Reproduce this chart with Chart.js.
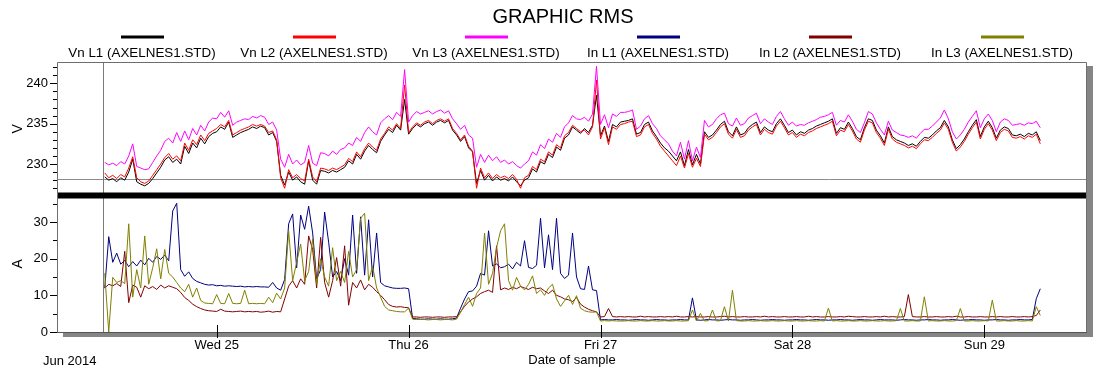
<!DOCTYPE html>
<html>
<head>
<meta charset="utf-8">
<script src="https://cdn.jsdelivr.net/npm/chart.js@4/dist/chart.umd.min.js"></script>
<style>
html,body{margin:0;padding:0;background:#fff;overflow:hidden}
#c{display:block}
</style>
</head>
<body>
<canvas id="c" width="1099" height="369"></canvas>
<script>
// ---------- text ----------
const chartTitle = 'GRAPHIC RMS';
const seriesNames = ['Vn L1 (AXELNES1.STD)','Vn L2 (AXELNES1.STD)','Vn L3 (AXELNES1.STD)',
                     'In L1 (AXELNES1.STD)','In L2 (AXELNES1.STD)','In L3 (AXELNES1.STD)'];
const dayTicks  = [24, 48, 72, 96, 120];          // hours since Tue 24 00:00
const dayLabels = ['Wed 25','Thu 26','Fri 27','Sat 28','Sun 29'];
const monthLabel = 'Jun 2014';
const xAxisTitle = 'Date of sample';
const voltTitle = 'V';
const ampTitle = 'A';

// ---------- sampling ----------
const startHour = 10;     // Tue 24 10:00
const stepHours = 0.5;    // one sample every 30 min
const cursorHour = 9.74;
const cursorVolt = 228.2;

// ---------- values (V) ----------
const vnL1 = [
228.4,228.0,228.2,227.8,228.3,228.0,229.0,230.6,227.8,227.5,
227.3,227.6,228.2,228.9,229.6,230.5,230.9,230.2,230.6,230.0,
232.2,231.3,232.6,232.0,233.2,232.5,233.4,233.8,234.0,234.6,
234.3,235.2,233.3,233.6,233.9,234.1,234.3,234.6,234.4,234.7,
234.5,233.6,233.9,232.8,228.6,227.4,229.0,228.0,228.4,227.8,
227.5,230.4,228.0,227.5,229.2,229.1,228.9,229.2,229.0,229.3,
229.6,230.4,230.0,231.2,230.6,231.6,232.3,231.8,231.4,232.8,
233.6,234.3,233.9,234.8,234.2,238.0,233.7,234.4,234.9,234.6,
235.0,235.2,234.8,235.2,235.4,235.1,235.4,234.2,233.6,232.8,
233.4,232.0,231.5,227.6,229.2,228.0,228.6,227.9,228.4,228.0,
228.2,227.9,228.4,227.8,227.3,228.0,228.3,229.4,229.0,230.3,
230.0,231.2,230.8,232.1,231.7,233.2,233.6,234.6,234.2,233.8,
234.4,233.9,234.8,238.5,233.5,234.7,232.8,234.9,234.6,235.2,
235.3,235.4,235.6,233.7,233.9,234.9,235.2,234.1,233.4,232.6,
232.0,231.6,231.0,230.4,231.5,229.8,231.8,229.9,231.2,230.0,
234.0,233.3,233.6,234.2,234.9,235.3,234.0,233.5,234.6,233.6,
233.8,234.5,234.9,235.2,233.9,234.6,234.2,234.0,235.0,235.6,
234.8,233.9,234.2,233.6,234.0,233.8,234.2,234.4,234.7,234.9,
235.1,235.3,235.6,233.8,234.5,234.3,235.2,234.4,233.4,233.0,
234.5,235.6,235.4,234.2,233.5,232.6,234.6,233.4,233.0,232.8,
232.6,232.3,232.5,232.2,232.8,233.3,233.2,233.6,234.1,234.5,
235.4,234.6,233.0,231.9,232.4,233.1,234.0,234.8,235.5,233.4,
234.6,235.3,234.5,233.2,234.2,234.6,234.4,233.6,233.5,233.7,
233.4,233.8,233.6,234.0,232.9];
const vnL2 = [
228.9,228.3,228.6,228.2,228.7,228.4,229.5,230.9,228.3,227.8,
227.6,227.9,228.6,229.3,230.0,230.8,231.3,230.6,231.0,230.4,
232.6,231.7,233.0,232.4,233.6,232.9,233.8,234.1,234.4,234.9,
234.6,235.4,233.6,233.9,234.2,234.4,234.6,234.9,234.7,234.9,
234.7,233.9,234.1,233.0,228.3,227.0,229.3,228.3,228.7,228.2,
227.9,230.6,228.4,227.8,229.5,229.4,229.2,229.5,229.3,229.6,
229.9,230.7,230.3,231.5,230.9,231.9,232.6,232.1,231.7,233.1,
233.8,234.6,234.2,235.0,234.4,239.8,233.9,234.6,235.1,234.8,
235.2,235.4,235.0,235.4,235.6,235.3,235.6,234.4,233.8,233.0,
233.6,232.2,231.6,227.0,229.5,228.3,228.9,228.2,228.7,228.3,
228.5,228.2,228.7,228.1,227.0,228.3,228.6,229.7,229.3,230.6,
230.3,231.5,231.1,232.4,232.0,233.5,233.9,234.8,234.4,234.0,
234.2,233.6,234.6,240.4,233.1,234.5,232.4,234.6,234.3,234.9,
235.0,235.2,235.3,233.4,233.6,234.6,234.9,233.8,233.1,232.2,
231.6,231.0,230.4,229.8,231.0,229.5,231.3,229.6,230.7,229.7,
233.7,233.0,233.3,233.9,234.6,235.0,233.7,233.2,234.3,233.3,
233.5,234.2,234.6,234.9,233.6,234.3,233.9,233.7,234.7,235.3,
234.5,233.6,233.9,233.3,233.7,233.5,233.9,234.1,234.4,234.6,
234.8,235.0,235.3,233.5,234.2,234.0,234.9,234.1,233.1,232.7,
234.2,235.3,235.1,233.9,233.2,232.3,234.3,233.1,232.7,232.5,
232.3,232.0,232.2,231.9,232.5,233.0,232.9,233.3,233.8,234.2,
235.1,234.3,232.7,231.6,232.1,232.8,233.7,234.5,235.2,233.1,
234.3,235.0,234.2,232.9,233.9,234.3,234.1,233.3,233.2,233.4,
233.1,233.5,233.3,233.7,232.5];
const vnL3 = [
230.2,229.9,230.1,229.8,230.3,230.0,231.0,232.5,229.7,229.5,
229.3,229.4,230.2,231.0,231.7,232.8,233.2,232.6,233.9,232.8,
234.1,233.0,234.4,233.6,234.8,234.1,235.2,235.7,235.6,236.4,
235.8,236.6,234.8,235.2,235.4,235.6,235.5,235.9,235.7,236.0,
235.8,234.9,235.2,234.2,230.6,229.6,231.2,230.0,230.5,229.9,
230.2,232.3,230.1,229.8,231.4,231.3,231.0,231.6,231.2,231.8,
232.0,232.6,232.3,233.3,232.8,233.9,234.6,234.0,233.6,235.1,
235.6,236.0,235.5,236.4,235.9,241.7,235.2,236.0,236.5,236.2,
236.4,236.6,236.2,236.5,236.7,236.3,236.6,235.6,235.0,234.3,
234.8,233.6,233.2,229.6,231.2,230.2,231.1,230.4,230.9,230.2,
230.5,230.0,230.3,229.8,229.5,230.0,230.4,231.5,231.1,232.4,
231.9,233.1,232.7,233.8,233.3,234.6,235.1,236.0,235.6,235.5,
235.8,235.3,236.2,242.1,234.9,236.1,234.5,236.2,235.9,236.4,
236.4,236.5,236.7,234.3,234.7,235.6,236.0,235.0,234.4,233.5,
233.0,232.5,231.6,231.0,232.7,230.6,232.9,230.4,232.1,230.8,
235.4,234.6,234.9,235.6,236.1,236.3,235.0,234.7,235.7,234.8,
235.0,235.7,236.0,236.3,235.0,235.6,235.2,234.9,235.9,236.5,
235.6,234.8,235.2,234.7,234.9,234.8,235.1,235.3,235.5,235.8,
235.9,236.1,236.4,234.8,235.4,235.2,236.1,235.3,234.3,233.9,
235.1,236.5,236.2,235.1,234.3,233.6,235.3,234.2,233.9,233.6,
233.5,233.3,233.5,233.2,233.8,234.3,234.3,234.7,235.2,235.7,
236.7,235.6,234.0,233.1,233.6,234.3,235.2,235.9,236.6,234.5,
235.6,236.2,235.4,234.0,235.2,235.6,235.4,234.8,234.9,235.0,
234.8,235.1,235.0,235.3,234.5];

// ---------- values (A) ----------
const inL1 = [
12.0,26.0,19.0,21.5,18.5,19.5,17.8,19.2,18.0,19.6,
18.3,20.1,19.0,20.6,19.8,21.0,19.4,33.0,35.1,17.0,
15.2,16.4,14.6,13.8,13.4,13.0,12.8,12.9,12.6,12.7,
12.5,12.6,12.5,12.4,12.5,12.3,12.4,12.3,12.4,12.3,
12.3,12.2,13.5,12.0,11.4,14.3,29.5,32.2,17.5,31.9,
28.0,34.3,27.0,14.5,17.0,32.7,24.5,15.0,16.5,14.0,
20.0,15.5,31.9,16.0,31.4,15.5,30.6,15.0,27.0,13.5,
12.6,12.3,12.0,11.9,11.9,12.0,11.8,3.7,3.6,3.5,
3.5,3.6,3.5,3.5,3.6,3.5,3.5,3.6,3.8,6.5,
9.0,11.0,11.2,12.5,16.0,15.5,27.6,18.0,18.6,17.5,
17.8,18.5,17.2,19.0,18.0,24.9,17.6,17.3,18.2,31.0,
17.5,26.5,17.0,31.0,16.0,14.6,15.5,27.0,15.0,11.8,
11.6,18.0,11.5,11.3,3.3,3.4,3.3,3.3,3.4,3.3,
3.3,3.2,3.3,3.4,3.3,3.3,3.2,3.3,3.4,3.3,
3.3,3.2,3.3,3.3,3.4,3.3,3.3,9.3,3.3,3.2,
3.3,3.4,3.3,3.3,3.2,3.3,3.4,3.3,3.3,3.2,
3.3,3.3,3.4,3.3,3.2,3.3,3.3,3.4,3.3,3.3,
3.2,3.3,3.3,3.4,3.3,3.3,3.2,3.3,3.4,3.3,
3.3,3.2,3.3,3.3,3.4,3.3,3.3,3.2,3.3,3.4,
3.3,3.3,3.2,3.3,3.4,3.3,3.3,3.3,3.2,3.3,
3.4,3.3,3.3,3.2,3.3,3.3,3.4,3.3,3.3,3.2,
3.3,3.3,3.4,3.3,3.2,3.3,3.3,3.4,3.3,3.3,
3.2,3.3,3.3,3.4,3.3,3.3,3.2,3.3,3.3,3.4,
3.3,3.3,3.4,9.1,11.8];
const inL2 = [
12.0,13.0,12.6,13.2,12.4,22.0,8.0,12.8,12.2,9.5,
12.6,11.8,12.4,11.6,12.8,12.0,12.6,12.2,11.8,10.8,
9.4,8.6,7.6,6.9,6.4,6.0,5.8,5.7,5.6,6.2,
5.7,5.6,5.5,5.6,5.7,5.5,5.6,5.5,5.6,5.4,
5.5,5.7,5.4,5.6,5.5,9.0,12.5,14.0,12.0,14.5,
13.0,26.2,22.5,12.0,25.8,13.5,9.5,14.0,20.3,12.5,
23.5,7.3,13.5,12.0,14.2,11.5,13.0,12.2,11.0,10.0,
8.8,7.5,7.0,6.8,6.9,6.7,6.6,4.1,4.1,4.0,
4.1,4.1,4.0,4.1,4.1,4.0,4.1,4.1,4.2,5.5,
7.0,8.2,9.0,9.6,10.5,11.0,11.4,10.8,23.5,11.5,
12.0,11.6,12.2,11.8,12.4,12.0,11.6,12.2,11.8,12.0,
11.2,10.5,11.4,10.0,9.6,9.0,8.8,8.3,9.4,7.6,
6.8,6.2,5.8,5.5,4.1,4.2,6.4,4.2,4.1,4.2,
4.1,4.2,4.1,4.1,4.3,4.1,4.2,4.1,4.1,4.2,
4.1,4.2,4.1,4.3,4.1,4.1,4.2,4.1,4.2,4.1,
4.1,4.2,4.1,4.1,4.2,4.3,4.1,4.2,4.1,4.1,
4.2,4.1,4.1,4.2,4.1,4.3,4.1,4.2,4.1,4.1,
4.2,4.1,4.1,4.2,4.1,4.1,4.3,4.1,4.2,4.1,
4.1,4.2,4.1,4.1,4.2,4.1,4.3,4.2,4.1,4.1,
4.2,4.1,4.1,4.2,4.1,4.3,4.1,4.2,4.1,4.1,
4.2,10.2,4.2,4.1,4.1,4.2,4.1,4.1,4.2,4.1,
4.1,4.2,4.1,4.3,4.1,4.1,4.2,4.1,4.1,4.2,
4.1,4.1,4.2,4.1,4.2,4.1,4.1,4.2,4.1,4.1,
4.2,4.1,4.2,4.5,6.0];
const inL3 = [
16.0,0.0,14.9,13.5,14.0,13.2,29.5,9.5,17.0,12.0,
26.2,13.0,17.5,22.7,14.5,22.5,16.0,15.0,13.5,12.0,
11.0,13.0,9.5,12.0,8.6,7.9,7.8,7.7,10.2,7.8,
7.7,10.5,7.8,7.7,7.8,11.4,7.7,7.8,7.7,7.8,
7.7,9.5,8.0,10.6,9.0,12.0,27.6,14.0,19.0,24.0,
14.0,16.5,25.4,13.0,20.0,15.0,12.5,23.0,14.0,16.5,
13.5,22.0,15.0,17.0,31.0,32.4,14.0,18.0,12.0,9.5,
7.0,6.0,5.8,5.6,5.5,5.5,6.5,3.5,3.4,3.4,
3.4,3.3,3.4,3.4,3.3,3.4,3.4,3.3,3.5,5.4,
7.5,9.5,7.0,10.5,12.0,27.0,13.0,16.0,23.0,27.6,
29.5,14.0,11.4,14.9,12.5,11.5,13.0,15.3,10.5,11.5,
10.0,12.0,13.0,9.0,7.0,8.5,10.0,7.5,9.9,6.5,
5.8,5.5,5.4,5.5,3.0,3.1,3.0,3.1,3.0,3.0,
3.0,3.1,3.0,3.0,3.1,3.0,3.0,3.1,3.0,3.0,
3.1,3.0,3.0,3.1,3.0,3.0,3.1,6.0,3.0,5.1,
3.0,3.1,6.0,3.0,3.1,6.9,3.0,11.4,3.1,3.0,
3.0,3.1,3.0,3.0,3.1,3.0,3.0,3.1,3.0,3.0,
3.1,3.0,3.0,3.1,3.0,3.0,3.1,3.0,3.0,3.1,
3.0,6.5,3.0,3.1,3.0,3.0,3.1,3.0,3.0,3.1,
3.0,3.0,3.1,3.0,3.0,3.1,3.0,3.0,3.1,6.4,
3.0,3.0,3.1,3.0,3.0,9.6,3.0,3.1,3.0,3.0,
3.1,3.0,3.0,3.1,6.4,3.0,3.0,3.1,3.0,3.0,
3.1,3.0,8.7,3.0,3.0,3.1,3.0,3.0,3.1,3.0,
3.0,3.1,3.0,6.9,4.5];

// ---------- build ----------
const FONT = '"Liberation Sans", Arial, Helvetica, sans-serif';
Chart.defaults.font.family = FONT;
Chart.defaults.color = '#000';

const hours = vnL1.map((_, i) => startHour + i * stepHours);
const toXY = arr => arr.map((v, i) => ({x: hours[i], y: v}));

const colors = ['#000000', '#ff0000', '#ff00ff', '#000080', '#800000', '#808000'];
const seriesValues = [vnL1, vnL2, vnL3, inL1, inL2, inL3];
const axisOf = ['yV', 'yV', 'yV', 'yI', 'yI', 'yI'];
const drawOrder = [3, 2, 1, 6, 5, 4];

const datasets = seriesValues.map((vals, k) => ({
  label: seriesNames[k],
  data: toXY(vals),
  yAxisID: axisOf[k],
  borderColor: colors[k],
  backgroundColor: colors[k],
  borderWidth: 1,
  pointRadius: 0,
  tension: 0,
  fill: false,
  order: drawOrder[k]
}));

const legendCenters = [142, 314, 486, 658, 830, 1002];

const deco = {
  id: 'deco',
  beforeDatasetsDraw(chart) {
    const {ctx, chartArea: a, scales} = chart;
    const cy = Math.round(scales.yV.getPixelForValue(cursorVolt)) + 0.5;
    ctx.save();
    ctx.strokeStyle = '#8c8c8c';
    ctx.lineWidth = 1;
    ctx.beginPath(); ctx.moveTo(a.left, cy); ctx.lineTo(a.right, cy); ctx.stroke();
    ctx.restore();
  },
  afterDatasetsDraw(chart) {
    const {ctx, chartArea: a, scales} = chart;
    const yV = scales.yV, yI = scales.yI, x = scales.x;
    ctx.save();
    // cursor vertical line
    const cx = Math.round(x.getPixelForValue(cursorHour)) + 0.5;
    ctx.strokeStyle = '#7a7a7a'; ctx.lineWidth = 1;
    ctx.beginPath(); ctx.moveTo(cx, a.top); ctx.lineTo(cx, a.bottom); ctx.stroke();
    // separator bar between panels
    const seam = yV.bottom;
    ctx.fillStyle = '#000';
    ctx.fillRect(a.left, seam - 3, a.right - a.left, 6);
    // frame
    ctx.strokeStyle = '#6e6e6e';
    ctx.beginPath();
    ctx.moveTo(a.left + 0.5, a.bottom); ctx.lineTo(a.left + 0.5, a.top + 0.5);
    ctx.lineTo(a.right - 0.5, a.top + 0.5); ctx.lineTo(a.right - 0.5, a.bottom);
    ctx.stroke();
    // shadow right + bottom
    ctx.fillStyle = '#858585';
    ctx.fillRect(a.right, a.top + 4, 6, a.bottom - a.top + 1);
    ctx.fillRect(a.left + 6, a.bottom, a.right - a.left, 5);
    ctx.strokeStyle = '#555';
    ctx.beginPath(); ctx.moveTo(a.left, a.bottom + 0.5); ctx.lineTo(a.right, a.bottom + 0.5); ctx.stroke();
    // y tick marks
    ctx.strokeStyle = '#000';
    [[yV, 5], [yI, 10]].forEach(([s, major]) => {
      s.ticks.forEach(t => {
        const py = Math.round(s.getPixelForValue(t.value)) + 0.5;
        const isMajor = Math.abs(t.value % major) < 1e-6;
        const len = isMajor ? 7 : 4;
        ctx.beginPath(); ctx.moveTo(a.left - len, py); ctx.lineTo(a.left, py); ctx.stroke();
      });
    });
    // x tick marks
    dayTicks.forEach(v => {
      const px = Math.round(x.getPixelForValue(v)) + 0.5;
      ctx.beginPath(); ctx.moveTo(px, a.bottom - 7); ctx.lineTo(px, a.bottom + 6); ctx.stroke();
    });
    ctx.restore();
  },
  afterDraw(chart) {
    const {ctx} = chart;
    ctx.save();
    ctx.fillStyle = '#000';
    ctx.textAlign = 'center';
    ctx.textBaseline = 'alphabetic';
    ctx.font = '20px ' + FONT;
    ctx.fillText(chartTitle, 563, 23);
    ctx.font = '13.4px ' + FONT;
    chart.data.datasets.forEach((ds, k) => {
      const c = legendCenters[k];
      ctx.fillStyle = ds.borderColor;
      ctx.fillRect(c - 21, 35.5, 43, 3);
      ctx.fillStyle = '#000';
      ctx.fillText(ds.label, c, 57);
    });
    ctx.textAlign = 'left';
    ctx.font = '13px ' + FONT;
    ctx.fillText(monthLabel, 43, 365);
    ctx.restore();
  }
};

new Chart(document.getElementById('c'), {
  type: 'line',
  data: {datasets},
  plugins: [deco],
  options: {
    responsive: false,
    devicePixelRatio: 1,
    animation: false,
    events: [],
    layout: {padding: {left: 0, right: 12, top: 62, bottom: 0}},
    plugins: {legend: {display: false}, title: {display: false}, tooltip: {enabled: false}},
    scales: {
      x: {
        type: 'linear', position: 'bottom', min: 4.03, max: 132.84,
        grid: {display: false, drawTicks: false}, border: {display: false},
        afterBuildTicks: s => { s.ticks = dayTicks.map(v => ({value: v})); },
        afterFit: s => { s.height = 37; },
        ticks: {
          autoSkip: false, maxRotation: 0, minRotation: 0, padding: 6,
          font: {size: 13}, color: '#000',
          callback: v => dayLabels[dayTicks.indexOf(v)] || ''
        },
        title: {display: true, text: xAxisTitle, font: {size: 13}, color: '#000', padding: {top: 0, bottom: 1}}
      },
      yI: {
        type: 'linear', position: 'left', stack: 'panels', stackWeight: 136.5,
        min: 0, max: 37.22,
        grid: {display: false, drawTicks: false}, border: {display: false},
        afterFit: s => { s.width = 57; },
        ticks: {
          stepSize: 5, includeBounds: false, autoSkip: false, padding: 9,
          font: {size: 13}, color: '#000',
          callback: v => (v % 10 === 0 ? String(v) : '')
        },
        title: {display: true, text: ampTitle, font: {size: 14}, color: '#000', padding: {top: 10, bottom: 0}}
      },
      yV: {
        type: 'linear', position: 'left', stack: 'panels', stackWeight: 133.5,
        min: 226.1, max: 242.64,
        grid: {display: false, drawTicks: false}, border: {display: false},
        afterFit: s => { s.width = 57; },
        ticks: {
          stepSize: 1, includeBounds: false, autoSkip: false, padding: 9,
          font: {size: 13}, color: '#000',
          callback: v => (v % 5 === 0 ? String(v) : '')
        },
        title: {display: true, text: voltTitle, font: {size: 14}, color: '#000', padding: {top: 10, bottom: 0}}
      }
    }
  }
});
</script>
</body>
</html>
